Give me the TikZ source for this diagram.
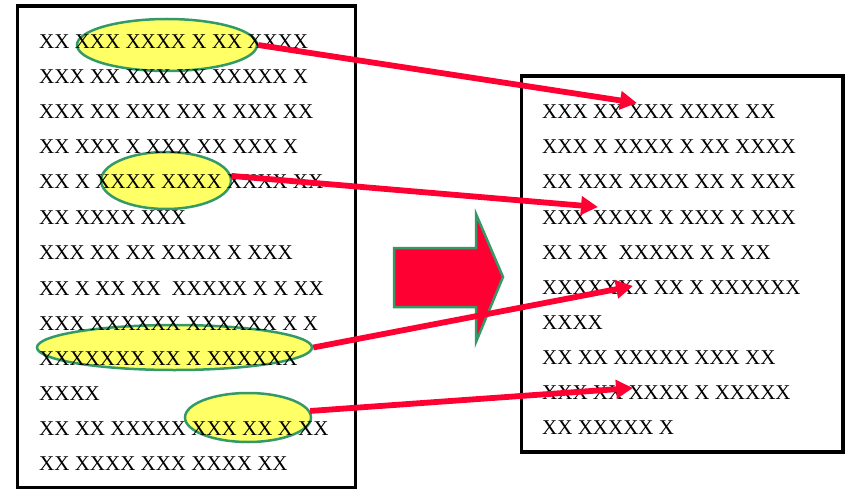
\documentclass[tikz,border=0pt]{standalone}
\usepackage{fontspec}
\setmainfont{Liberation Serif}
\usetikzlibrary{arrows.meta,shapes.geometric}
\definecolor{hlyellow}{RGB}{255,255,102}
\definecolor{hlgreen}{RGB}{51,153,102}
\definecolor{hlred}{RGB}{255,0,51}
\begin{document}
\begin{tikzpicture}[x=1pt,y=-1pt,
  pagebox/.style={draw=black,line width=3.6pt},
  hl/.style={ellipse,fill=hlyellow,draw=hlgreen,line width=2.5pt,inner sep=0pt},
  txt/.style={anchor=base west,inner sep=0pt,font=\fontsize{21}{21}\selectfont},
  link/.style={draw=hlred,line width=5.8pt,-{Triangle[length=17pt,width=18pt]}},
  bigarrow/.style={fill=hlred,draw=hlgreen,line width=2.5pt,line join=miter}]
\useasboundingbox (0,0) rectangle (845,489);
% pages
\draw[pagebox] (17.5,6) rectangle (355.5,488);
\draw[pagebox] (521.5,76) rectangle (843,452);
% highlight ellipses
\node[hl,minimum width=180pt,minimum height=52pt] (e1) at (167,45) {};
\node[hl,minimum width=130pt,minimum height=57pt] (e2) at (166,180.5) {};
\node[hl,minimum width=275pt,minimum height=45pt] (e3) at (174.5,347.5) {};
\node[hl,minimum width=126pt,minimum height=49pt] (e4) at (248,417.5) {};
% left text
\node[txt] (l1) at (39,49) {XX XXX XXXX X XX XXXX};
\node[txt] (l2) at (39,84) {XXX XX XXX XX XXXXX X};
\node[txt] (l3) at (39,119) {XXX XX XXX XX X XXX XX};
\node[txt] (l4) at (39,154) {XX XXX X XXX XX XXX X};
\node[txt] (l5) at (39,189) {XX X XXXX XXXX XXXX XX};
\node[txt] (l6) at (39,224) {XX XXXX XXX};
\node[txt] (l7) at (39,259) {XXX XX XX XXXX X XXX};
\node[txt] (l8) at (39,295) {XX X XX XX \ XXXXX X X XX};
\node[txt] (l9) at (39,330) {XXX XXXXXX XXXXXX X X};
\node[txt] (l10) at (39,365) {XXXXXXX XX X XXXXXX};
\node[txt] (l11) at (39,400) {XXXX};
\node[txt] (l12) at (39,435) {XX XX XXXXX XXX XX X XX};
\node[txt] (l13) at (39,470) {XX XXXX XXX XXXX XX};
% right text
\node[txt] (r1) at (542,119) {XXX XX XXX XXXX XX};
\node[txt] (r2) at (542,154) {XXX X XXXX X XX XXXX};
\node[txt] (r3) at (542,189) {XX XXX XXXX XX X XXX};
\node[txt] (r4) at (542,224) {XXX XXXX X XXX X XXX};
\node[txt] (r5) at (542,259) {XX XX \ XXXXX X X XX};
\node[txt] (r6) at (542,294) {XXXXXXX XX X XXXXXX};
\node[txt] (r7) at (542,329) {XXXX};
\node[txt] (r8) at (542,364) {XX XX XXXXX XXX XX};
\node[txt] (r9) at (542,399) {XXX XX XXXX X XXXXX};
\node[txt] (r10) at (542,434) {XX XXXXX X};
% big arrow
\draw[bigarrow] (394,248) -- (476,248) -- (476,214) -- (503,277) -- (476,342) -- (476,307) -- (394,307) -- cycle;
% target points
\coordinate (t1) at (637,103);
\coordinate (t2) at (598,207);
\coordinate (t3) at (633,286);
\coordinate (t4) at (633,388);
% links
\draw[link] (e1.east) -- (t1);
\draw[link] (e2.4) -- (t2);
\draw[link] (e3.east) -- (t3);
\draw[link] (e4.6) -- (t4);
\end{tikzpicture}
\end{document}
